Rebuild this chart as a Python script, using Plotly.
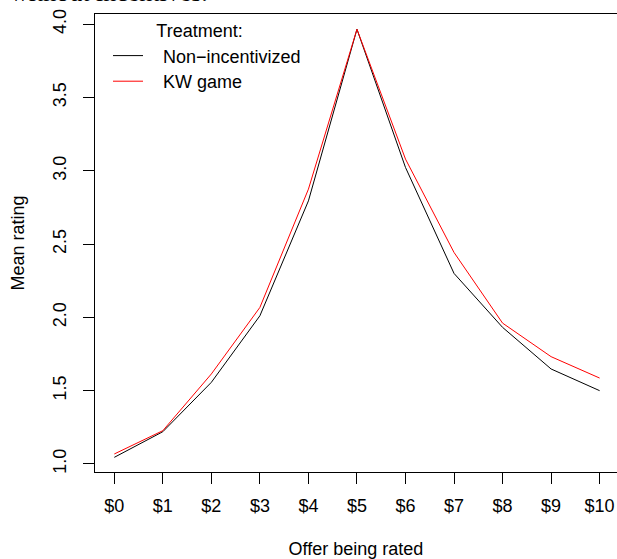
import plotly.graph_objects as go

offers = list(range(11))
offer_labels = ["$0", "$1", "$2", "$3", "$4", "$5", "$6", "$7", "$8", "$9", "$10"]
non_incentivized = [1.045, 1.22, 1.557, 2.011, 2.795, 3.966, 3.023, 2.30, 1.932, 1.648, 1.50]
kw_game = [1.068, 1.227, 1.614, 2.068, 2.875, 3.966, 3.08, 2.443, 1.961, 1.732, 1.586]
y_ticks = [1.0, 1.5, 2.0, 2.5, 3.0, 3.5, 4.0]
y_tick_labels = ["1.0", "1.5", "2.0", "2.5", "3.0", "3.5", "4.0"]
series_names = ["Non\u2212incentivized", "KW game"]

FONT = "Liberation Sans, Arial, Helvetica, sans-serif"
PAD = "\u00a0\u00a0\u00a0"

fig = go.Figure()
fig.add_trace(go.Scatter(x=offers, y=non_incentivized, mode="lines",
                         name=PAD + series_names[0], legend="legend",
                         line=dict(color="black", width=1)))
fig.add_trace(go.Scatter(x=offers, y=kw_game, mode="lines",
                         name=PAD + series_names[1], legend="legend2",
                         line=dict(color="#ff0000", width=1)))

W, H = 617, 559
ml, mr, mt, mb = 95, 0, 14, 87
pw = W - ml - mr
ph = H - mt - mb

fig.update_layout(
    width=W, height=H,
    margin=dict(l=ml, r=mr, t=mt, b=mb, pad=0, autoexpand=False),
    paper_bgcolor="white", plot_bgcolor="white",
    font=dict(family=FONT, size=18, color="black"),
    showlegend=True,
    legend=dict(
        x=(108 - ml) / pw, y=1.0, xanchor="left", yanchor="top",
        bgcolor="rgba(0,0,0,0)", borderwidth=0,
        title=dict(text="Treatment:" + PAD, side="top center", font=dict(size=18)),
        font=dict(size=18), itemwidth=30,
    ),
    legend2=dict(
        x=(108 - ml) / pw, y=1.0 - 49 / ph, xanchor="left", yanchor="top",
        bgcolor="rgba(0,0,0,0)", borderwidth=0,
        font=dict(size=18), itemwidth=30,
    ),
    xaxis=dict(
        range=[-0.398, -0.398 + pw / 48.53],
        tickmode="array", tickvals=offers, ticktext=offer_labels,
        showgrid=False, zeroline=False,
        showline=True, linecolor="black", linewidth=1, mirror=True,
        ticks="outside", ticklen=11, tickcolor="black", tickwidth=1,
        ticklabelstandoff=6,
        title=dict(text="Offer being rated", standoff=30, font=dict(size=18)),
        tickfont=dict(size=18),
    ),
    yaxis=dict(
        range=[0.945, 4.070],
        tickmode="array", tickvals=y_ticks, ticktext=y_tick_labels,
        tickangle=-90,
        showgrid=False, zeroline=False,
        showline=True, linecolor="black", linewidth=1, mirror=False,
        ticks="outside", ticklen=11, tickcolor="black", tickwidth=1,
        ticklabelstandoff=10,
        title=dict(text="Mean rating", standoff=20, font=dict(size=18)),
        tickfont=dict(size=18),
    ),
    annotations=[dict(
        text="without incentives.", xref="paper", yref="paper",
        x=(8 - ml) / pw, y=1 + 10 / ph,
        xanchor="left", yanchor="bottom", showarrow=False,
        font=dict(family="Liberation Serif, Times New Roman, serif", size=26, color="black"),
        yshift=-5, xshift=0,
    )],
)

fig.write_html(
    "out.html",
    config={"displayModeBar": False},
    post_script="document.body.style.margin='0';document.body.style.padding='0';",
)
